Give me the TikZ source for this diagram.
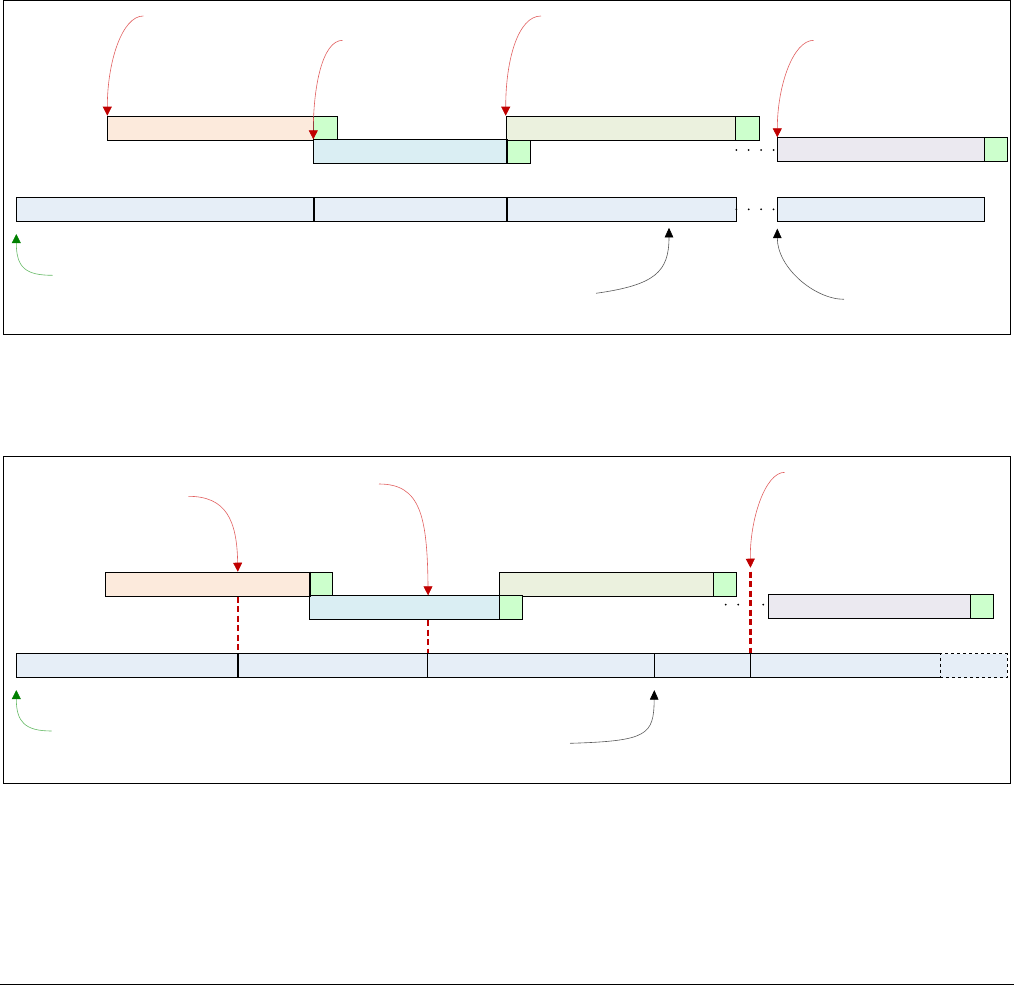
\documentclass[tikz,border=0pt]{standalone}
\usetikzlibrary{arrows.meta}

\definecolor{orangefill}{RGB}{252,234,220}
\definecolor{bluefill}{RGB}{218,238,243}
\definecolor{olivefill}{RGB}{235,241,222}
\definecolor{lilacfill}{RGB}{235,233,240}
\definecolor{rowfill}{RGB}{230,238,247}
\definecolor{tailfill}{RGB}{204,255,204}
\definecolor{redline}{RGB}{225,95,95}
\definecolor{redtip}{RGB}{192,0,0}
\definecolor{greenline}{RGB}{100,185,100}
\definecolor{greentip}{RGB}{0,128,0}

\begin{document}
\begin{tikzpicture}[
    x=1pt, y=-1pt,
    seg/.style={draw=black, line width=0.8pt, inner sep=0pt,
        minimum height=24, anchor=north west},
    frame/.style={draw=black, line width=0.9pt},
    redarr/.style={-{Triangle[length=9pt,width=9pt,fill=redtip,color=redtip]},
        draw=redline, line width=0.6pt},
    greenarr/.style={-{Triangle[length=9pt,width=9pt,fill=greentip,color=greentip]},
        draw=greenline, line width=0.6pt},
    blackarr/.style={-{Triangle[length=9.5pt,width=8.5pt,fill=black,color=black]},
        draw=black!65, line width=0.6pt},
    cut/.style={draw=redtip, line width=2.2pt, dash pattern=on 6pt off 3.5pt},
    divider/.style={line width=2pt}
]
    \useasboundingbox (0,0) rectangle (1014,985);

    %------------------------------------------------
    % 1. top panel
    %------------------------------------------------
    \draw[frame] (3,0.5) rectangle (1010,334);

    \node[seg, fill=orangefill, minimum width=206]  (o1) at (107.3,115.7) {};
    \node[seg, fill=tailfill,   minimum width=23.4] (g1) at (313.3,115.7) {};
    \node[seg, fill=bluefill,   minimum width=192.4] (b1) at (313.3,139.3) {};
    \node[seg, fill=tailfill,   minimum width=24]   (g2) at (505.7,139.3) {};
    \node[seg, fill=olivefill,  minimum width=229]  (e1) at (505.7,115.7) {};
    \node[seg, fill=tailfill,   minimum width=24]   (g3) at (734.7,115.7) {};
    \node[seg, fill=lilacfill,  minimum width=206.4] (p1) at (777.3,137.3) {};
    \node[seg, fill=tailfill,   minimum width=23]   (g4) at (983.7,137.3) {};

    \node[seg, fill=rowfill, minimum width=296.7] (s1) at (16.3,197.3) {};
    \node[seg, fill=rowfill, minimum width=193]   (s2) at (313,197.3) {};
    \node[seg, fill=rowfill, minimum width=229.7] (s3) at (506,197.3) {};
    \node[seg, fill=rowfill, minimum width=206.4] (s4) at (777.3,197.3) {};

    \draw[divider] (s1.north east) -- (s1.south east);
    \draw[divider] (s2.north east) -- (s2.south east);
    \draw[divider] (b1.north east) -- (b1.south east);

    \foreach \x in {736.3,748.7,761.1,773.5} {
        \fill (\x,150) circle (1);
        \fill (\x,209.3) circle (1);
    }

    \coordinate (t1) at (143.3,16);
    \coordinate (t2) at (342.7,40.3);
    \coordinate (t3) at (541,16);
    \coordinate (t4) at (813.7,40.3);
    \coordinate (t5) at (52.7,275.3);
    \coordinate (t6) at (596,293.3);
    \coordinate (t7) at (844,299.3);
    \coordinate (h1) at (669,221.3);

    \draw[redarr] (t1) .. controls (122,16) and (107.3,62) .. (o1.north west);
    \draw[redarr] (t2) .. controls (322,40.3) and (313.3,88) .. (b1.north west);
    \draw[redarr] (t3) .. controls (518,16) and (505.7,60) .. (e1.north west);
    \draw[redarr] (t4) .. controls (793,40.3) and (777.3,86) .. (p1.north west);

    \draw[greenarr, shorten >=12pt] (t5) .. controls (26,275.3) and (16.3,268) .. (s1.south west);
    \draw[blackarr, shorten >=6.5pt] (t6) .. controls (655,285) and (669,272) .. (h1);
    \draw[blackarr, shorten >=6.5pt] (t7) .. controls (815,299.3) and (777.3,268) .. (s4.south west);

    %------------------------------------------------
    % 2. bottom panel
    %------------------------------------------------
    \draw[frame] (3,456) rectangle (1010,783.3);

    \node[seg, fill=orangefill, minimum width=203.7] (o2) at (105.3,571.7) {};
    \node[seg, fill=tailfill,   minimum width=23.3]  (g5) at (309,571.7) {};
    \node[seg, fill=olivefill,  minimum width=214]   (e2) at (499.3,571.7) {};
    \node[seg, fill=tailfill,   minimum width=23]    (g6) at (713.3,571.7) {};
    \node[seg, fill=bluefill,   minimum width=190]   (b2) at (309.3,595.3) {};
    \node[seg, fill=tailfill,   minimum width=23]    (g7) at (499.3,595.3) {};
    \node[seg, fill=lilacfill,  minimum width=202.6] (p2) at (767.7,593.7) {};
    \node[seg, fill=tailfill,   minimum width=23]    (g8) at (970.3,593.7) {};

    \node[seg, fill=rowfill, minimum width=220.7] (r1) at (16.3,653.3) {};
    \node[seg, fill=rowfill, minimum width=190.3] (r2) at (237,653.3) {};
    \node[seg, fill=rowfill, minimum width=226.4] (r3) at (427.3,653.3) {};
    \node[seg, fill=rowfill, minimum width=96]    (r4) at (653.7,653.3) {};
    \node[seg, fill=rowfill, minimum width=190]   (r5) at (749.7,653.3) {};
    \node[seg, fill=rowfill, minimum width=67, dashed, line width=0.6pt] (r6) at (939.7,653.3) {};

    \draw[divider] (r1.north east) -- (r1.south east);
    \draw[line width=1.4pt] (o2.north east) -- (o2.south east);

    \foreach \x in {725.7,738.2,750.7,763.2}
        \fill (\x,604.7) circle (1);

    \draw[cut] (r1.north east |- o2.south) -- (r1.north east);
    \draw[cut] (r2.north east |- b2.south) -- (r2.north east);
    \draw[cut] (r4.north east |- e2.north) -- (r4.north east);

    \coordinate (t8)  at (188.3,496.3);
    \coordinate (t9)  at (379,484);
    \coordinate (t10) at (784.7,472.3);
    \coordinate (t11) at (51.7,731);
    \coordinate (t12) at (570,743.3);

    \draw[redarr] (t8) .. controls (226,496.3) and (237,520) .. (r1.north east |- o2.north);
    \draw[redarr] (t9) .. controls (420,484) and (427.3,515) .. (r2.north east |- b2.north);
    \draw[redarr, shorten >=4pt] (t10) .. controls (765,472.3) and (749.7,520) .. (r4.north east |- e2.north);

    \draw[greenarr, shorten >=12pt] (t11) .. controls (25,731) and (16.3,722) .. (r1.south west);
    \draw[blackarr, shorten >=12pt] (t12) .. controls (648,741) and (653.7,735) .. (r3.south east);

    % page rule
    \draw[line width=0.9pt] (0,984) -- (1014,984);

\end{tikzpicture}
\end{document}
